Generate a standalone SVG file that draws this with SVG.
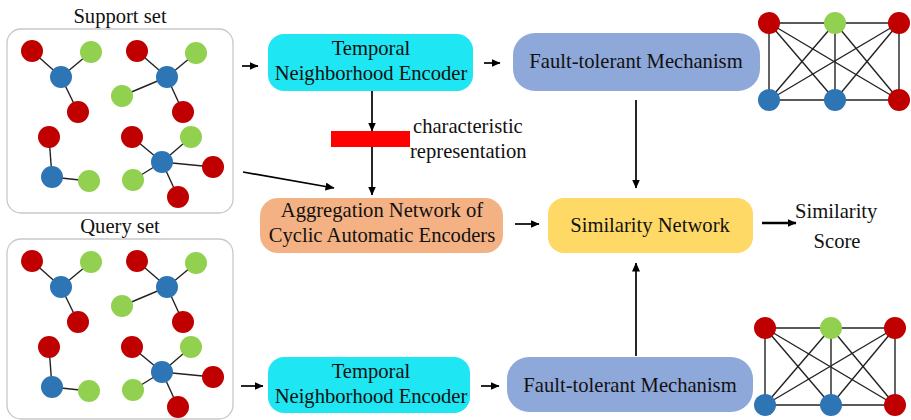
<svg xmlns="http://www.w3.org/2000/svg" xmlns:xlink="http://www.w3.org/1999/xlink" width="911" height="420" viewBox="0 0 911 420">
<style>
text{font-family:"Liberation Serif","Times New Roman",serif;font-size:20.6px;fill:#111}
.c{text-anchor:middle}
.set{fill:#fff;stroke:#c8c8c8;stroke-width:1.3}
.e{stroke:#222;stroke-width:1.4;fill:none}
.r{fill:#c00000}.g{fill:#92d050}.b{fill:#2e75b6}
.conn{stroke:#000;stroke-width:1.7;fill:none}
</style>
<defs>
<marker id="ah" markerUnits="userSpaceOnUse" markerWidth="9" markerHeight="8" refX="8.5" refY="4" orient="auto">
<path d="M0,0 L9,4 L0,8 z" fill="#000"/>
</marker>
<g id="sg">
<g class="e">
<line x1="32" y1="51" x2="61" y2="77"/><line x1="91" y1="52" x2="61" y2="77"/><line x1="61" y1="77" x2="78" y2="112"/>
<line x1="137" y1="51" x2="167" y2="77"/><line x1="196" y1="53" x2="167" y2="77"/><line x1="167" y1="77" x2="122" y2="96"/><line x1="167" y1="77" x2="183" y2="112"/>
<line x1="49" y1="137" x2="52" y2="177"/><line x1="52" y1="177" x2="89" y2="181"/>
<line x1="162" y1="162" x2="132" y2="137"/><line x1="162" y1="162" x2="191" y2="137"/><line x1="162" y1="162" x2="213" y2="167"/><line x1="162" y1="162" x2="133" y2="180"/><line x1="162" y1="162" x2="178" y2="197"/>
</g>
<circle class="r" cx="32" cy="51" r="11"/><circle class="g" cx="91" cy="52" r="11"/><circle class="b" cx="61" cy="77" r="11"/><circle class="r" cx="78" cy="112" r="11"/>
<circle class="r" cx="137" cy="51" r="11"/><circle class="g" cx="196" cy="53" r="11"/><circle class="b" cx="167" cy="77" r="11"/><circle class="g" cx="122" cy="96" r="11"/><circle class="r" cx="183" cy="112" r="11"/>
<circle class="r" cx="49" cy="137" r="11"/><circle class="b" cx="52" cy="177" r="11"/><circle class="g" cx="89" cy="181" r="11"/>
<circle class="r" cx="132" cy="137" r="11"/><circle class="g" cx="191" cy="137" r="11"/><circle class="b" cx="162" cy="162" r="11"/><circle class="r" cx="213" cy="167" r="11"/><circle class="g" cx="133" cy="180" r="11"/><circle class="r" cx="178" cy="197" r="11"/>
</g>
<g id="fg">
<g class="e">
<line x1="0" y1="0" x2="130" y2="0"/><line x1="0" y1="77" x2="130" y2="77"/>
<line x1="0" y1="0" x2="0" y2="77"/><line x1="0" y1="0" x2="66" y2="77"/><line x1="0" y1="0" x2="130" y2="77"/>
<line x1="66" y1="0" x2="0" y2="77"/><line x1="66" y1="0" x2="66" y2="77"/><line x1="66" y1="0" x2="130" y2="77"/>
<line x1="130" y1="0" x2="0" y2="77"/><line x1="130" y1="0" x2="66" y2="77"/><line x1="130" y1="0" x2="130" y2="77"/>
</g>
<circle class="r" cx="0" cy="0" r="11"/><circle class="g" cx="66" cy="0" r="11"/><circle class="r" cx="130" cy="0" r="11"/>
<circle class="b" cx="0" cy="77" r="11"/><circle class="b" cx="66" cy="77" r="11"/><circle class="r" cx="130" cy="77" r="11"/>
</g>
</defs>

<g id="support-set">
<text class="c" x="120" y="23">Support set</text>
<rect class="set" x="7" y="29" width="226" height="184" rx="14"/>
<use xlink:href="#sg"/>
</g>
<g id="query-set">
<text class="c" x="120" y="233">Query set</text>
<rect class="set" x="7" y="239" width="226" height="180" rx="14"/>
<use xlink:href="#sg" transform="translate(0,210)"/>
</g>

<g id="tne-top">
<rect x="268" y="34" width="205" height="57" rx="16" fill="#1ee6f2"/>
<text class="c" x="371" y="55">Temporal</text>
<text class="c" x="371" y="80">Neighborhood Encoder</text>
</g>
<g id="ftm-top">
<rect x="513" y="33" width="247" height="58" rx="22" fill="#8fa8da"/>
<text class="c" x="636" y="68">Fault-tolerant Mechanism</text>
</g>
<g id="graph-top"><use xlink:href="#fg" transform="translate(769,23)"/></g>

<g id="char-rep">
<rect x="331" y="131" width="79" height="16" fill="#ff0000"/>
<text x="413" y="133">characteristic</text>
<text x="410" y="158">representation</text>
</g>

<g id="agg">
<rect x="260" y="198" width="243" height="55" rx="18" fill="#f4b183"/>
<text class="c" x="382" y="217">Aggregation Network of</text>
<text class="c" x="382" y="242">Cyclic Automatic Encoders</text>
</g>
<g id="sim">
<rect x="548" y="198" width="205" height="55" rx="16" fill="#ffd966"/>
<text class="c" x="650" y="232">Similarity Network</text>
</g>
<g id="score">
<text x="795" y="218">Similarity</text>
<text class="c" x="837" y="248">Score</text>
</g>

<g id="tne-bottom">
<rect x="268" y="357" width="202" height="56" rx="16" fill="#1ee6f2"/>
<text class="c" x="371" y="378">Temporal</text>
<text class="c" x="371" y="403">Neighborhood Encoder</text>
</g>
<g id="ftm-bottom">
<rect x="507" y="357" width="246" height="55" rx="22" fill="#8fa8da"/>
<text class="c" x="630" y="392">Fault-tolerant Mechanism</text>
</g>
<g id="graph-bottom"><use xlink:href="#fg" transform="translate(765,328)"/></g>

<g id="connectors" class="conn">
<line x1="242" y1="66" x2="258" y2="66" marker-end="url(#ah)"/>
<line x1="484" y1="63" x2="500" y2="63" marker-end="url(#ah)"/>
<line x1="372" y1="91" x2="372" y2="131" marker-end="url(#ah)"/>
<line x1="372" y1="147" x2="372" y2="195" marker-end="url(#ah)"/>
<line x1="243" y1="172" x2="334" y2="188" marker-end="url(#ah)"/>
<line x1="515" y1="224" x2="539" y2="224" marker-end="url(#ah)"/>
<line x1="636" y1="100" x2="636" y2="188" marker-end="url(#ah)"/>
<line x1="762" y1="223" x2="796" y2="223" stroke-width="2.4" marker-end="url(#ah)"/>
<line x1="241" y1="386" x2="263" y2="386" marker-end="url(#ah)"/>
<line x1="481" y1="386" x2="499" y2="386" marker-end="url(#ah)"/>
<line x1="636" y1="356" x2="636" y2="263" marker-end="url(#ah)"/>
</g>
</svg>
